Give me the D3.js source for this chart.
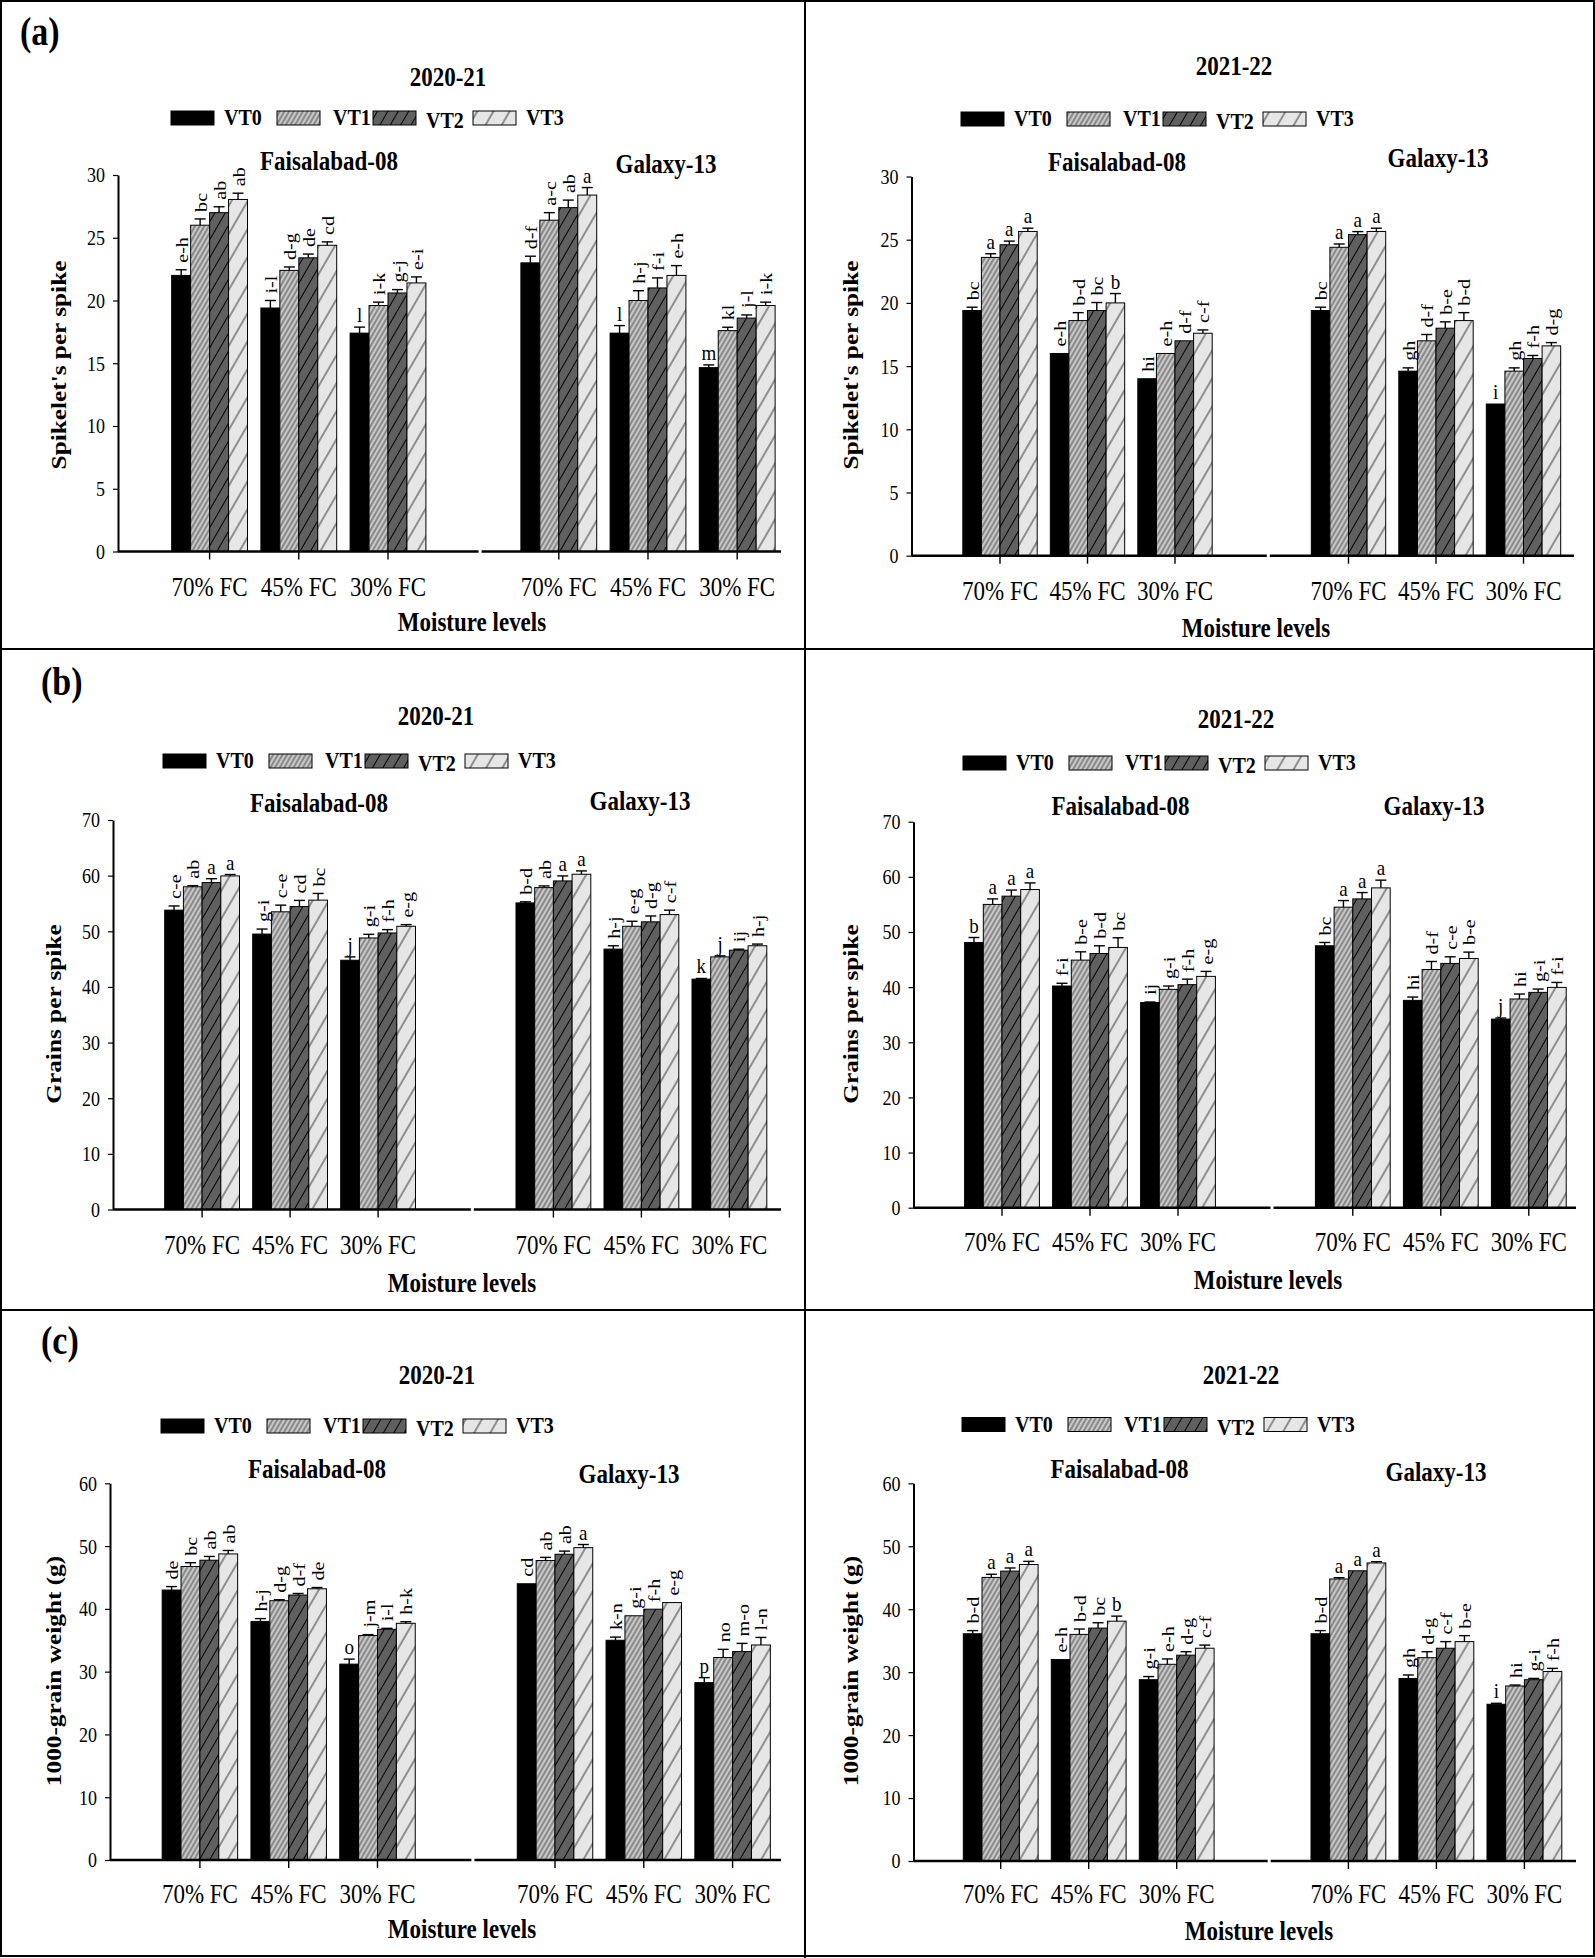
<!DOCTYPE html>
<html><head><meta charset="utf-8">
<script src="https://cdn.jsdelivr.net/npm/d3@7"></script>
<style>body{margin:0;background:#fff} svg{display:block} text{font-family:"Liberation Serif","Times New Roman",serif;fill:#000}</style>
</head><body><svg id="c" width="1595" height="1958"></svg>
<script>
// ---------------- DATA ----------------
const varieties = ["VT0","VT1","VT2","VT3"];
const cultivars = ["Faisalabad-08","Galaxy-13"];
const moisture = ["70% FC","45% FC","30% FC"];
const seasons = ["2020-21","2021-22"];
const panelLabels = ["(a)","(b)","(c)"];
const yTitles = ["Spikelet's per spike","Grains per spike","1000-grain weight (g)"];
const xTitle = "Moisture levels";
const spikeTicks = [0,5,10,15,20,25,30];
const grainTicks = [0,10,20,30,40,50,60,70];
const tgwTicks = [0,10,20,30,40,50,60];

// values: [cultivar][moisture][variety]
const spikeMean2020 = [[[22.0,26.0,27.0,28.05],[19.4,22.4,23.4,24.4],[17.4,19.6,20.6,21.4]],
                       [[23.0,26.4,27.4,28.4],[17.4,20.0,21.0,22.0],[14.65,17.6,18.6,19.6]]];
const spikeErr2020  = [[[0.45,0.5,0.47,0.5],[0.6,0.27,0.3,0.27],[0.48,0.27,0.27,0.48]],
                       [[0.53,0.6,0.6,0.6],[0.6,0.78,0.8,0.78],[0.22,0.27,0.25,0.27]]];
const spikeLet2020  = [[["e-h","bc","ab","ab"],["i-l","d-g","de","cd"],["l","i-k","g-j","e-i"]],
                       [["d-f","a-c","ab","a"],["l","h-j","f-i","e-h"],["m","kl","j-l","i-k"]]];

const spikeMean2021 = [[[19.4,23.6,24.6,25.65],[16.0,18.6,19.4,20.0],[14.0,16.0,17.0,17.6]],
                       [[19.4,24.4,25.4,25.65],[14.6,17.0,18.0,18.6],[12.0,14.6,15.6,16.6]]];
const spikeErr2021  = [[[0.26,0.29,0.29,0.26],[0,0.63,0.63,0.74],[0,0,0,0.26]],
                       [[0.26,0.26,0.24,0.26],[0.26,0.5,0.5,0.63],[0,0.26,0.24,0.26]]];
const spikeLet2021  = [[["bc","a","a","a"],["e-h","b-d","bc","b"],["hi","e-h","d-f","c-f"]],
                       [["bc","a","a","a"],["gh","d-f","b-e","b-d"],["i","gh","f-h","d-g"]]];

const grainMean2020 = [[[53.8,58.0,58.75,59.95],[49.5,53.5,54.45,55.6],[44.8,48.8,49.7,50.9]],
                       [[55.1,57.85,59.05,60.25],[46.8,50.9,51.7,53.0],[41.4,45.4,46.6,47.4]]];
const grainErr2020  = [[[0.75,0.2,0.7,0.25],[0.9,1.2,1.1,1.2],[0.6,0.65,0.6,0.3]],
                       [[0.2,0.3,0.9,0.6],[0.6,0.9,1.05,0.8],[0.12,0.18,0.18,0.3]]];
const grainLet2020  = [[["c-e","ab","a","a"],["g-i","c-e","cd","bc"],["j","g-i","f-h","e-g"]],
                       [["b-d","ab","a","a"],["h-j","e-g","d-g","c-f"],["k","j","ij","h-j"]]];

const grainMean2021 = [[[48.1,55.0,56.5,57.7],[40.2,44.9,46.1,47.2],[37.2,39.6,40.45,41.95]],
                       [[47.5,54.5,56.0,58.0],[37.6,43.2,44.3,45.2],[34.2,37.85,39.05,39.95]]];
const grainErr2021  = [[[0.9,1.0,1.1,1.2],[0.5,1.5,1.4,1.75],[0.1,0.6,1.0,0.9]],
                       [[0.6,1.2,1.15,1.4],[0.6,1.45,1.2,1.15],[0.2,0.9,0.6,0.9]]];
const grainLet2021  = [[["b","a","a","a"],["f-i","b-e","b-d","bc"],["ij","g-i","f-h","e-g"]],
                       [["bc","a","a","a"],["hi","d-f","c-e","b-e"],["j","hi","g-i","f-i"]]];

const tgwMean2020 = [[[43.0,46.75,47.75,48.75],[38.0,41.3,42.2,43.2],[31.2,35.75,36.75,37.7]],
                     [[44.0,47.7,48.7,49.75],[35.0,38.9,39.95,41.0],[28.25,32.25,33.2,34.25]]];
const tgwErr2020  = [[[0.55,0.6,0.6,0.55],[0.45,0.15,0.25,0.2],[0.8,0.15,0.15,0.25]],
                     [[0,0.5,0.5,0.5],[0.5,0,0,0],[0.8,1.3,1.3,1.2]]];
const tgwLet2020  = [[["de","bc","ab","ab"],["h-j","d-g","d-f","de"],["o","j-m","i-l","h-k"]],
                     [["cd","ab","ab","a"],["k-n","g-i","f-h","e-g"],["p","no","m-o","l-n"]]];

const tgwMean2021 = [[[36.1,45.05,46.05,47.1],[32.0,36.0,37.0,38.1],[28.8,31.25,32.7,33.8]],
                     [[36.1,44.8,46.1,47.35],[29.0,32.3,33.8,34.85],[24.9,27.8,28.8,30.1]]];
const tgwErr2021  = [[[0.5,0.5,0.5,0.5],[0,0.85,0.85,0.8],[0.5,0.85,0.55,0.5]],
                     [[0.5,0.2,0,0.2],[0.55,0.95,1.05,0.95],[0.15,0.15,0.2,0.5]]];
const tgwLet2021  = [[["b-d","a","a","a"],["e-h","b-d","bc","b"],["g-i","e-h","d-g","c-f"]],
                     [["b-d","a","a","a"],["gh","d-g","c-f","b-e"],["i","hi","g-i","f-h"]]];

// ---------------- LAYOUT ----------------
const layouts = [
 {axisX:118, yTop:175, y0:551.5, xEnd:781, fc:298.8, gc:648, step:89.2, title:[448,77], leg:[171,118], subF:[329,161], subG:[666,164], catY:587, ml:[472,622], yt:[58.7,365], plabel:[20,32]},
 {axisX:911.5, yTop:176.5, y0:555.7, xEnd:1574, fc:1087.5, gc:1436, step:87.5, title:[1234,66], leg:[961,119], subF:[1117,162], subG:[1438,158], catY:591, ml:[1256,628], yt:[851,365]},
 {axisX:113, yTop:820, y0:1209.5, xEnd:781, fc:290.1, gc:641.4, step:88, title:[436,716], leg:[163,761], subF:[319,803], subG:[640,801], catY:1245, ml:[462,1283], yt:[54,1014], plabel:[41,682]},
 {axisX:913.5, yTop:821.7, y0:1207.7, xEnd:1576, fc:1090, gc:1440.8, step:88, title:[1236,718.5], leg:[963,763], subF:[1120.5,806], subG:[1434,806], catY:1242, ml:[1268,1280], yt:[851,1014]},
 {axisX:110, yTop:1483.3, y0:1860, xEnd:781, fc:288.7, gc:643.8, step:88.8, title:[437,1375], leg:[161,1426], subF:[317,1469], subG:[629,1474], catY:1894, ml:[462,1929], yt:[54,1671], plabel:[41,1341]},
 {axisX:913.5, yTop:1483.3, y0:1861, xEnd:1576, fc:1088.7, gc:1436.4, step:88, title:[1241,1375], leg:[962,1424.5], subF:[1119.5,1469], subG:[1436,1472], catY:1894, ml:[1259,1931], yt:[851,1671]}
];

const charts = [
 {p:0, s:0, mean:spikeMean2020, err:spikeErr2020, let:spikeLet2020, ticks:spikeTicks},
 {p:0, s:1, mean:spikeMean2021, err:spikeErr2021, let:spikeLet2021, ticks:spikeTicks},
 {p:1, s:0, mean:grainMean2020, err:grainErr2020, let:grainLet2020, ticks:grainTicks},
 {p:1, s:1, mean:grainMean2021, err:grainErr2021, let:grainLet2021, ticks:grainTicks},
 {p:2, s:0, mean:tgwMean2020, err:tgwErr2020, let:tgwLet2020, ticks:tgwTicks},
 {p:2, s:1, mean:tgwMean2021, err:tgwErr2021, let:tgwLet2021, ticks:tgwTicks}
];

// ---------------- DRAW ----------------
const SY = 1.15;
const FONT = '"Liberation Serif","Times New Roman",serif';
const svg = d3.select("#c");
svg.append("rect").attr("width",1595).attr("height",1958).attr("fill","#fff");
const defs = svg.append("defs");
function hatch(id, size, bg, color, sw){
  const p = defs.append("pattern").attr("id",id).attr("patternUnits","userSpaceOnUse")
    .attr("width",size).attr("height",size).attr("patternTransform","rotate(30)");
  p.append("rect").attr("width",size).attr("height",size).attr("fill",bg);
  p.append("line").attr("x1",size/2).attr("x2",size/2).attr("y1",0).attr("y2",size)
    .attr("stroke",color).attr("stroke-width",sw);
}
hatch("pVT1", 4, "#c8c8c8", "#2a2a2a", 0.8);
hatch("pVT2", 9, "#606060", "#000", 1);
hatch("pVT3", 14, "#e6e6e6", "#222", 0.9);
const fills = {VT0:"#000", VT1:"url(#pVT1)", VT2:"url(#pVT2)", VT3:"url(#pVT3)"};

function addText(g, x, y, s, o={}){
  return g.append("text")
    .attr("transform", `translate(${x},${y}) scale(1,${SY})` + (o.rot ? " rotate(-90)" : ""))
    .attr("text-anchor", o.anchor || "middle")
    .attr("dominant-baseline", o.baseline || "central")
    .style("font-family", FONT)
    .style("font-size", (o.size||16)+"px")
    .style("font-weight", o.weight || "normal")
    .text(s);
}

// panel borders
svg.append("rect").attr("x",1).attr("y",1).attr("width",1593).attr("height",1955)
  .attr("fill","none").attr("stroke","#000").attr("stroke-width",2);
svg.append("line").attr("x1",805).attr("x2",805).attr("y1",0).attr("y2",1958).attr("stroke","#000").attr("stroke-width",2);
[649,1310].forEach(yy => svg.append("line").attr("x1",0).attr("x2",1595).attr("y1",yy).attr("y2",yy).attr("stroke","#000").attr("stroke-width",2));

const legOff = [0,106,202,302];
const legTxt = [53,56,53,53];

charts.forEach((c, k) => {
  const L = layouts[k];
  const g = svg.append("g");
  const ymax = c.ticks[c.ticks.length-1];
  const y = d3.scaleLinear().domain([0, ymax]).range([L.y0, L.yTop]);
  const x0 = d3.scaleBand().domain(cultivars)
    .range([L.fc - 1.5*L.step, L.gc + 1.5*L.step])
    .paddingInner(1 - 3*L.step/(L.gc - L.fc)).paddingOuter(0);
  const x1 = d3.scaleBand().domain(moisture).range([0, x0.bandwidth()]).paddingInner(0.15).paddingOuter(0.075);
  const x2 = d3.scaleBand().domain(varieties).range([0, x1.bandwidth()]);

  if (L.plabel) addText(g, L.plabel[0], L.plabel[1], panelLabels[c.p], {size:34, weight:"bold", anchor:"start"});
  addText(g, L.title[0], L.title[1], seasons[c.s], {size:23, weight:"bold"});
  varieties.forEach((v, i) => {
    g.append("rect").attr("x", L.leg[0]+legOff[i]).attr("y", L.leg[1]-7).attr("width",43).attr("height",14)
      .attr("fill", fills[v]).attr("stroke","#000").attr("stroke-width",1);
    addText(g, L.leg[0]+legOff[i]+legTxt[i], L.leg[1] + (i===2?3:0), v, {size:20, weight:"bold", anchor:"start"});
  });
  addText(g, L.subF[0], L.subF[1], cultivars[0], {size:23, weight:"bold"});
  addText(g, L.subG[0], L.subG[1], cultivars[1], {size:23, weight:"bold"});

  const recs = [];
  cultivars.forEach((cv, ci) => moisture.forEach((m, mi) => varieties.forEach((v, vi) => {
    recs.push({cv, m, v, mean:c.mean[ci][mi][vi], err:c.err[ci][mi][vi], lab:c.let[ci][mi][vi]});
  })));
  const bx = d => x0(d.cv) + x1(d.m) + x2(d.v);
  const bw = x2.bandwidth();

  g.selectAll("rect.bar").data(recs).join("rect").attr("class","bar")
    .attr("x", bx).attr("width", bw)
    .attr("y", d => y(d.mean)).attr("height", d => y(0) - y(d.mean))
    .attr("fill", d => fills[d.v]).attr("stroke","#000").attr("stroke-width",1);

  const eb = recs.filter(d => d.err > 0);
  g.selectAll("line.ev").data(eb).join("line").attr("class","ev")
    .attr("x1", d => bx(d)+bw/2).attr("x2", d => bx(d)+bw/2)
    .attr("y1", d => y(d.mean)).attr("y2", d => y(d.mean+d.err))
    .attr("stroke","#000").attr("stroke-width",1.4);
  g.selectAll("line.ec").data(eb).join("line").attr("class","ec")
    .attr("x1", d => bx(d)+bw/2-5.5).attr("x2", d => bx(d)+bw/2+5.5)
    .attr("y1", d => y(d.mean+d.err)).attr("y2", d => y(d.mean+d.err))
    .attr("stroke","#000").attr("stroke-width",1.4);

  recs.forEach(d => {
    const cx = bx(d) + bw/2, top = y(d.mean + d.err);
    if (d.lab.length === 1) addText(g, cx, top - 5, d.lab, {size:19, baseline:"alphabetic"});
    else addText(g, cx + 0.5, top - 7, d.lab, {size:17.5, rot:true, anchor:"start"});
  });

  const ya = g.append("g").attr("transform", `translate(${L.axisX},0)`)
    .call(d3.axisLeft(y).tickValues(c.ticks).tickSize(5).tickSizeOuter(0).tickPadding(8).tickFormat(d3.format("d")));
  ya.select(".domain").attr("stroke","#000").attr("stroke-width",2);
  ya.selectAll(".tick line").attr("stroke","#000").attr("stroke-width",1.2);
  ya.selectAll(".tick text").attr("dy",null).attr("dominant-baseline","central")
    .attr("transform",`scale(1,${SY})`).style("font-size","18px").style("font-family",FONT);

  const brk = (x0(cultivars[0]) + x1(moisture[2]) + x1.step()/2 + x0(cultivars[1]) + x1(moisture[0]) + x1.step()/2) / 2;
  g.append("line").attr("x1", L.axisX).attr("x2", brk-1.5).attr("y1", L.y0).attr("y2", L.y0).attr("stroke","#000").attr("stroke-width",2.5);
  g.append("line").attr("x1", brk+1.5).attr("x2", L.xEnd).attr("y1", L.y0).attr("y2", L.y0).attr("stroke","#000").attr("stroke-width",2.5);

  cultivars.forEach(cv => {
    const xa = g.append("g").attr("transform", `translate(${x0(cv)},${L.y0})`)
      .call(d3.axisBottom(x1).tickSize(8).tickSizeOuter(0));
    xa.select(".domain").remove();
    xa.selectAll(".tick line").attr("stroke","#000").attr("stroke-width",1.4);
    xa.selectAll(".tick text").attr("y",null).attr("dy",null).attr("dominant-baseline","central")
      .attr("transform", `translate(0,${L.catY - L.y0}) scale(1,${SY})`)
      .style("font-size","23px").style("font-family",FONT);
  });

  addText(g, L.ml[0], L.ml[1], xTitle, {size:23, weight:"bold"});
  addText(g, L.yt[0], L.yt[1], yTitles[c.p], {size:22, weight:"bold", rot:true});
});
</script>
</body></html>
